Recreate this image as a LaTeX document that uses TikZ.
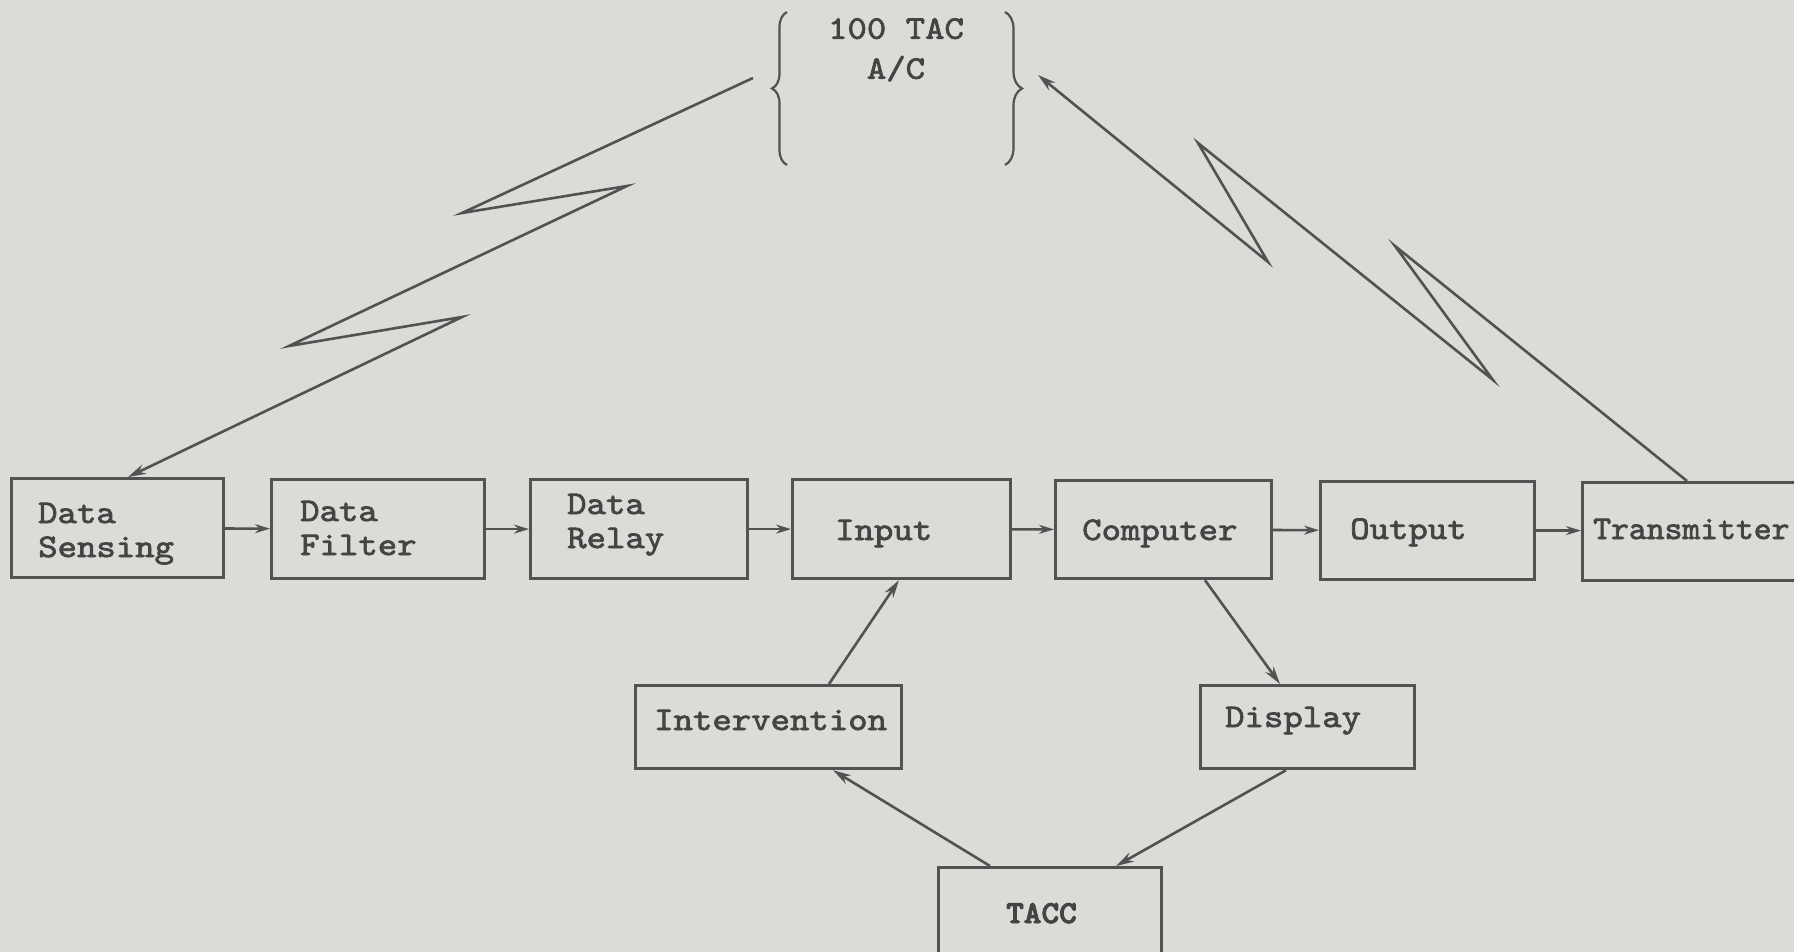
\documentclass[tikz,border=0pt]{standalone}
\usepackage{fontspec}
\newfontfamily\tw{lmmono10-regular.otf}[FakeBold=2.2,FakeStretch=1.12]
\newfontfamily\twn{lmmono10-regular.otf}[FakeBold=2.2,FakeStretch=1.03]
\newfontfamily\twb{lmmonolt10-bold.otf}[FakeBold=3,FakeStretch=1.05]
\usetikzlibrary{arrows.meta,decorations.pathreplacing}
\definecolor{paper}{RGB}{219,219,216}
\definecolor{ink}{RGB}{82,82,82}
\definecolor{txt}{RGB}{68,68,68}
\begin{document}
\begin{tikzpicture}[x=1pt,y=-1pt,
  box/.style={draw=ink, line width=3.2pt, rectangle, anchor=north west, inner sep=0pt},
  lbl/.style={anchor=base west, inner sep=0pt, text=txt, font=\tw\fontsize{33}{34}\selectfont},
  conn/.style={draw=ink, line width=2.6pt, -{Stealth[length=18pt,width=10pt]}},
  shortarr/.style={draw=ink, line width=2.6pt, -{Stealth[length=15pt,width=9pt]}},
  brc/.style={draw=ink, line width=2.2pt, decorate},
]
\fill[paper] (0,0) rectangle (1794,952);
\useasboundingbox (0,0) rectangle (1794,952);
\clip (0,0) rectangle (1794,952);

% main row
\node[box, minimum width=212, minimum height=99] (ds) at (10,477) {};
\node[box, minimum width=213, minimum height=99] (df) at (270,478) {};
\node[box, minimum width=217, minimum height=99] (dr) at (529,478) {};
\node[box, minimum width=218, minimum height=99] (inp) at (791,478) {};
\node[box, minimum width=216, minimum height=98] (comp) at (1054,479) {};
\node[box, minimum width=214, minimum height=98] (out) at (1319,480) {};
\node[box, minimum width=240, minimum height=98] (tr) at (1581,481) {};
% lower boxes
\node[box, minimum width=266, minimum height=83] (int) at (634,684) {};
\node[box, minimum width=214, minimum height=83] (disp) at (1199,684) {};
\node[box, minimum width=223, minimum height=90] (tacc) at (937,866) {};

% labels
\node[lbl] (tds) at (38,523) {\begin{tabular}[t]{@{}l@{}}Data\\Sensing\end{tabular}};
\node[lbl] (tdf) at (300,521) {\begin{tabular}[t]{@{}l@{}}Data\\Filter\end{tabular}};
\node[lbl] (tdr) at (567,514) {\begin{tabular}[t]{@{}l@{}}Data\\Relay\end{tabular}};
\node[lbl] (tinp) at (835,540) {Input};
\node[lbl] (tcomp) at (1082,540) {Computer};
\node[lbl] (tout) at (1350,539) {Output};
\node[lbl, font=\twn\fontsize{33}{34}\selectfont] (ttr) at (1593,539) {Transmitter};
\node[lbl] (tint) at (654,730) {Intervention};
\node[lbl] (tdisp) at (1225,727) {Display};
\node[lbl, font=\twb\fontsize{32}{34}\selectfont] (ttacc) at (1006,923) {TACC};

% aircraft group
\node[anchor=north, inner sep=0pt, text=txt, align=center,
      font=\tw\fontsize{33}{40}\selectfont] (ac) at (896,18) {100 TAC\\A/C};
\draw[brc, decoration={brace, amplitude=15pt}] (787,165) -- (787,12);
\draw[brc, decoration={brace, amplitude=17pt}] (1005,12) -- (1005,165);

% row arrows
\draw[shortarr] (ds) -- (df);
\draw[shortarr] (df) -- (dr);
\draw[shortarr] (dr) -- (inp);
\draw[shortarr] (inp) -- (comp);
\draw[shortarr] (comp) -- (out);
\draw[shortarr] (out.east) -- (tr.west |- out.east);

% radio links
\coordinate (la) at (753,78);
\coordinate (lb) at (462,213);
\coordinate (lc) at (627,186);
\coordinate (ld) at (289,346);
\coordinate (le) at (462,317);
\draw[conn, line join=miter] (la) -- (lb) -- (lc) -- (ld) -- (le) -- ([xshift=118pt]ds.north west);

\coordinate (rb) at (1395,246);
\coordinate (rc) at (1493,380);
\coordinate (rd) at (1198,143);
\coordinate (re) at (1268,262);
\coordinate (rf) at (1038,75);
\draw[conn, line join=miter] ([xshift=106pt]tr.north west) -- (rb) -- (rc) -- (rd) -- (re) -- (rf);

% TACC loop
\draw[conn] ([xshift=195pt]int.north west) -- ([xshift=108pt]inp.south west);
\draw[conn] ([xshift=151pt]comp.south west) -- ([xshift=81pt]disp.north west);
\draw[conn] ([xshift=53pt]tacc.north west) -- ([xshift=199pt]int.south west);
\draw[conn] ([xshift=87pt]disp.south west) -- ([xshift=179pt]tacc.north west);
\end{tikzpicture}
\end{document}
